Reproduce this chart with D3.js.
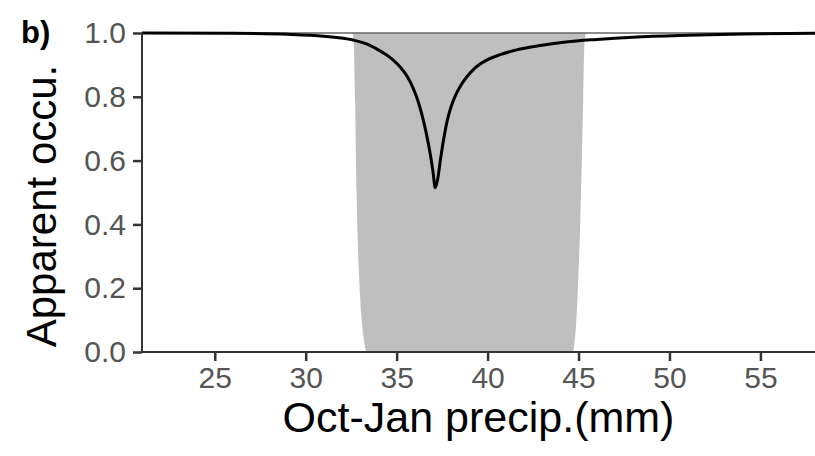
<!DOCTYPE html>
<html>
<head>
<meta charset="utf-8">
<script src="https://cdn.jsdelivr.net/npm/d3@7"></script>
<style>
  body { margin: 0; background: #fff; }
  svg text { font-family: "Liberation Sans", Arial, sans-serif; }
</style>
</head>
<body>
<svg id="chart" width="815" height="456"></svg>
<script>
// Mean apparent occupancy along Oct-Jan precipitation
let precip = [21, 26, 29, 31, 32.6, 33.5, 34.2, 34.8, 35.2, 35.6, 35.9, 36.2, 36.45, 36.65, 36.85, 37.0, 37.12,
              37.25, 37.4, 37.6, 37.8, 38.0, 38.2, 38.5, 38.85, 39.3, 39.95, 40.7, 41.6, 42.8, 44.3, 46, 48, 51, 54, 58];
let occu = [1.0, 0.999, 0.996, 0.99, 0.978, 0.962, 0.94, 0.916, 0.893, 0.862, 0.828, 0.782, 0.73, 0.68, 0.62, 0.565, 0.515,
            0.54, 0.6, 0.672, 0.73, 0.77, 0.8, 0.833, 0.862, 0.89, 0.915, 0.932, 0.947, 0.96, 0.972, 0.98, 0.987, 0.993, 0.997, 0.999];

// Lower bound of the interval (upper bound stays at 1)
let ciX = [21, 32.55, 32.64, 32.72, 32.8, 32.88, 32.95, 33.05, 33.15, 33.25, 33.35,
           44.68, 44.78, 44.88, 44.98, 45.08, 45.18, 45.26, 45.33, 45.42, 58];
let ciLow = [1, 1, 0.97, 0.78, 0.5, 0.32, 0.22, 0.12, 0.06, 0.02, 0,
             0, 0.03, 0.1, 0.22, 0.38, 0.6, 0.8, 0.97, 1, 1];

let xTicks = [25, 30, 35, 40, 45, 50, 55];
let yTicks = [0, 0.2, 0.4, 0.6, 0.8, 1.0];

let svg = d3.select("svg#chart");
let mLeft = 142, mRight = 815, mTop = 33, mBottom = 352;

let x = d3.scaleLinear().domain([21, 58]).range([mLeft, mRight]);
let y = d3.scaleLinear().domain([0, 1]).range([mBottom, mTop]);

// ribbon
let ribbon = d3.area()
    .x((d, i) => x(ciX[i]))
    .y0((d, i) => y(ciLow[i]))
    .y1(() => y(1))
    .curve(d3.curveMonotoneX);
svg.append("path")
    .datum(ciX)
    .attr("d", ribbon)
    .attr("fill", "#bfbfbf");

svg.append("line")
    .attr("x1", mLeft).attr("x2", mRight)
    .attr("y1", y(1)).attr("y2", y(1))
    .attr("stroke", "#666").attr("stroke-width", 1.5);

// mean line
let line = d3.line()
    .x((d, i) => x(precip[i]))
    .y((d, i) => y(occu[i]))
    .curve(d3.curveMonotoneX);
svg.append("path")
    .datum(precip)
    .attr("d", line)
    .attr("fill", "none")
    .attr("stroke", "#000")
    .attr("stroke-width", 3);

// axes
let xAxis = svg.append("g")
    .attr("transform", "translate(0," + mBottom + ")")
    .call(d3.axisBottom(x).tickValues(xTicks).tickSize(9).tickPadding(6).tickFormat(d3.format("d")));
let yAxis = svg.append("g")
    .attr("transform", "translate(" + mLeft + ",0)")
    .call(d3.axisLeft(y).tickValues(yTicks).tickSize(9).tickPadding(7).tickFormat(d3.format(".1f")));

[xAxis, yAxis].forEach(g => {
    g.select(".domain").attr("stroke", "#333").attr("stroke-width", 2);
    g.selectAll(".tick line").attr("stroke", "#333").attr("stroke-width", 2.5);
    g.selectAll(".tick text").attr("fill", "#555").style("font-size", "30px");
});
xAxis.select(".domain").attr("d", "M" + mLeft + ",0H" + mRight);
yAxis.select(".domain").attr("d", "M0," + mBottom + "V" + mTop);

// titles
svg.append("text")
    .attr("x", (mLeft + mRight) / 2).attr("y", 432)
    .attr("text-anchor", "middle")
    .style("font-size", "43px")
    .attr("fill", "#000")
    .text("Oct-Jan precip.(mm)");

svg.append("text")
    .attr("transform", "translate(56,206) rotate(-90)")
    .attr("text-anchor", "middle")
    .style("font-size", "42px")
    .attr("fill", "#000")
    .text("Apparent occu.");

svg.append("text")
    .attr("x", 21).attr("y", 43)
    .style("font-size", "31px")
    .style("font-weight", "bold")
    .text("b)");
</script>
</body>
</html>
